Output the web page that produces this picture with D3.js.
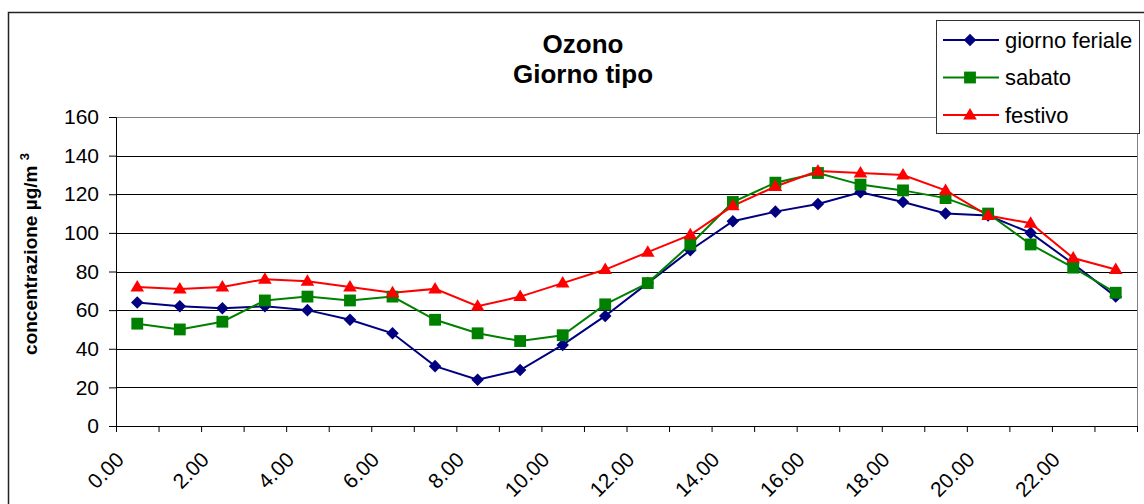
<!DOCTYPE html>
<html>
<head>
<meta charset="utf-8">
<script src="https://cdn.jsdelivr.net/npm/d3@7"></script>
<style>
  body { margin: 0; background: #fff; }
  svg text { font-family: "Liberation Sans", Arial, sans-serif; }
</style>
</head>
<body>
<svg id="chart" width="1144" height="504"></svg>
<script>
// categories (ore del giorno)
var hours = ["0.00","1.00","2.00","3.00","4.00","5.00","6.00","7.00","8.00","9.00","10.00","11.00",
             "12.00","13.00","14.00","15.00","16.00","17.00","18.00","19.00","20.00","21.00","22.00","23.00"];

// series values (µg/m3)
var feriale = [64,62,61,62,60,55,48,31,24,29,42,57,74,91,106,111,115,121,116,110,109,100,84,67];
var sabato  = [53,50,54,65,67,65,67,55,48,44,47,63,74,94,116,126,131,125,122,118,110,94,82,69];
var festivo = [72,71,72,76,75,72,69,71,62,67,74,81,90,99,114,124,132,131,130,122,109,105,87,81];

var yTicks = [0,20,40,60,80,100,120,140,160];
var seriesNames = ["giorno feriale","sabato","festivo"];

var w = 1144, h = 504;
var margin = { left: 116, right: 7, top: 117, bottom: 78 };
var figw = w - margin.left - margin.right;
var figh = h - margin.top - margin.bottom;

var svg = d3.select("#chart");

// outer chart border
svg.append("rect")
    .attr("x", 8.5).attr("y", 12.5)
    .attr("width", 1160).attr("height", 520)
    .attr("fill", "#fff")
    .attr("stroke", "#222")
    .attr("stroke-width", 1.5);

var x = d3.scaleBand().domain(hours).range([margin.left, margin.left + figw]).padding(0);
var xEdge = d3.scaleLinear().domain([0, hours.length]).range([margin.left, margin.left + figw]);
var y = d3.scaleLinear().domain([0, 160]).range([margin.top + figh, margin.top]);

function cx(i) { return x(hours[i]) + x.bandwidth() / 2; }

// gridlines
svg.append("g")
    .selectAll("line")
    .data(yTicks.filter(function(d) { return d > 0 && d < 160; }))
    .enter().append("line")
    .attr("x1", margin.left).attr("x2", margin.left + figw)
    .attr("y1", function(d) { return Math.round(y(d)) + 0.5; })
    .attr("y2", function(d) { return Math.round(y(d)) + 0.5; })
    .attr("stroke", "#000")
    .attr("stroke-width", 1);

// plot area border (gray)
svg.append("rect")
    .attr("x", margin.left + 0.5).attr("y", margin.top + 0.5)
    .attr("width", figw).attr("height", figh)
    .attr("fill", "none")
    .attr("stroke", "#808080")
    .attr("stroke-width", 1);

// y axis
var yAxis = d3.axisLeft(y).tickValues(yTicks).tickSize(7).tickPadding(10);
var gy = svg.append("g")
    .attr("transform", "translate(" + margin.left + ",0)")
    .call(yAxis);
gy.select(".domain").attr("stroke", "#000");
gy.selectAll(".tick line").attr("stroke", "#000");
gy.selectAll("text").style("font-size", "21px").attr("fill", "#000")
    .style("font-family", '"Liberation Sans", Arial, sans-serif');

// x axis: ticks on category edges
var xAxis = d3.axisBottom(xEdge).tickValues(d3.range(hours.length + 1)).tickSize(6).tickFormat("");
var gx = svg.append("g")
    .attr("transform", "translate(0," + (margin.top + figh) + ")")
    .call(xAxis);
gx.select(".domain").attr("stroke", "#000");
gx.selectAll(".tick line").attr("stroke", "#000");

// x labels, every other category, rotated
svg.append("g")
    .selectAll("text")
    .data(hours.filter(function(d, i) { return i % 2 === 0; }))
    .enter().append("text")
    .attr("transform", function(d) {
        return "translate(" + (x(d) + x.bandwidth() / 2 - 12) + "," + (margin.top + figh + 35) + ") rotate(-45)";
    })
    .attr("text-anchor", "end")
    .style("font-size", "21px")
    .text(function(d) { return d; });

// series lines + markers
var series = [
    { name: seriesNames[0], values: feriale, color: "#000080", marker: "diamond" },
    { name: seriesNames[1], values: sabato,  color: "#008000", marker: "square" },
    { name: seriesNames[2], values: festivo, color: "#FF0000", marker: "triangle" }
];

var line = d3.line()
    .x(function(d, i) { return cx(i); })
    .y(function(d) { return y(d); });

function markerPath(type) {
    if (type === "diamond") return d3.symbol().type(d3.symbolDiamond2).size(100)();
    if (type === "square") return d3.symbol().type(d3.symbolSquare).size(140)();
    return "M0,-7L6.8,4.5L-6.8,4.5Z";
}

series.forEach(function(s) {
    svg.append("path").datum(s.values)
        .attr("d", line)
        .attr("fill", "none")
        .attr("stroke", s.color)
        .attr("stroke-width", 2);
});

series.forEach(function(s) {
    svg.append("g").selectAll("path")
        .data(s.values)
        .enter().append("path")
        .attr("d", markerPath(s.marker))
        .attr("transform", function(d, i) { return "translate(" + cx(i) + "," + y(d) + ")"; })
        .attr("fill", s.color);
});

// title
var title = svg.append("text")
    .attr("x", 583).attr("y", 53)
    .attr("text-anchor", "middle")
    .style("font-size", "26px")
    .style("font-weight", "bold");
title.append("tspan").attr("x", 583).attr("y", 53).text("Ozono");
title.append("tspan").attr("x", 583).attr("y", 83).text("Giorno tipo");

// y axis label
var ylab = svg.append("text")
    .attr("transform", "translate(37,254) rotate(-90)")
    .attr("text-anchor", "middle")
    .style("font-size", "19px")
    .style("font-weight", "bold");
ylab.append("tspan").text("concentrazione µg/m ");
ylab.append("tspan").attr("dy", -8).style("font-size", "13px").text("3");

// legend
var legend = svg.append("g").attr("transform", "translate(936,20)");
legend.append("rect")
    .attr("x", 0.5).attr("y", 0.5)
    .attr("width", 203).attr("height", 113)
    .attr("fill", "#fff")
    .attr("stroke", "#333")
    .attr("stroke-width", 1);

var items = legend.selectAll(".item")
    .data(series)
    .enter().append("g")
    .attr("class", "item")
    .attr("transform", function(d, i) { return "translate(0," + (20 + i * 37.5) + ")"; });

items.append("line")
    .attr("x1", 7).attr("x2", 63)
    .attr("stroke", function(d) { return d.color; })
    .attr("stroke-width", 2);
items.append("path")
    .attr("d", function(d) { return markerPath(d.marker); })
    .attr("transform", "translate(34,0)")
    .attr("fill", function(d) { return d.color; });
items.append("text")
    .attr("x", 69).attr("y", 7.5)
    .style("font-size", "22px")
    .text(function(d) { return d.name; });
</script>
</body>
</html>
